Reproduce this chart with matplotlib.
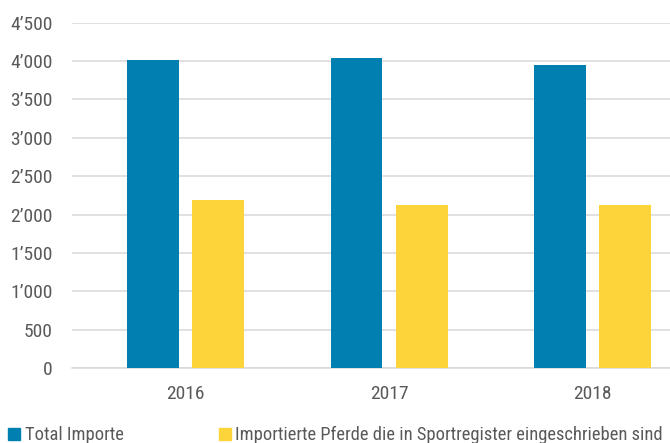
import matplotlib
matplotlib.use("Agg")
import matplotlib.pyplot as plt
from matplotlib.patches import Rectangle
from matplotlib import font_manager as fm
import numpy as np

years = ["2016", "2017", "2018"]
total_importe = [4013, 4040, 3948]
sport_register = [2187, 2121, 2121]
series_names = ["Total Importe", "Importierte Pferde die in Sportregister eingeschrieben sind"]
y_ticks = [0, 500, 1000, 1500, 2000, 2500, 3000, 3500, 4000, 4500]

available = {f.name for f in fm.fontManager.ttflist}
preferred = ["Roboto Condensed", "Open Sans Condensed", "Asap Condensed",
             "Barlow Condensed", "Archivo Narrow", "Liberation Sans Narrow"]
chosen = next((f for f in preferred if f in available), "DejaVu Sans")
plt.rcParams['font.family'] = [chosen, 'DejaVu Sans']

blue = "#0080B0"
yellow = "#FDD53A"
text_color = "#595959"

W, H = 670, 443
fig = plt.figure(figsize=(W / 100, H / 100), dpi=100)
ax = fig.add_axes([72 / W, (H - 368) / H, (W - 72) / W, (368 - 22.7) / H])

x = np.arange(len(years))
bw = 0.255
off = 0.16
ax.bar(x - off, total_importe, bw, color=blue, zorder=3)
ax.bar(x + off, sport_register, bw, color=yellow, zorder=3)

ax.set_xlim(-0.558, 2.381)
ax.set_ylim(0, 4500)
ax.set_yticks(y_ticks)
ax.set_yticklabels([f"{v:,}".replace(",", "\u2019") for v in y_ticks])
ax.set_xticks(x)
ax.set_xticklabels(years)
ax.yaxis.grid(True, color="#D9D9D9", linewidth=1.1, zorder=0)
for s in ["top", "right", "left"]:
    ax.spines[s].set_visible(False)
ax.spines["bottom"].set_color("#D9D9D9")
ax.spines["bottom"].set_linewidth(1.1)
fs = 14
ax.tick_params(axis="y", length=0, pad=14, labelsize=fs, labelcolor=text_color)
ax.tick_params(axis="x", length=0, pad=12, labelsize=fs, labelcolor=text_color)

# legend drawn manually
lfs = 13.3
leg_y = (H - 439.5) / H
sq = 12
fig.patches.append(Rectangle((8 / W, leg_y), sq / W, sq / H, transform=fig.transFigure,
                             color=blue, figure=fig))
fig.text(25 / W, leg_y, series_names[0], fontsize=lfs, color=text_color, va="baseline", ha="left")
fig.patches.append(Rectangle((219 / W, leg_y), sq / W, sq / H, transform=fig.transFigure,
                             color=yellow, figure=fig))
fig.text(235 / W, leg_y, series_names[1], fontsize=lfs, color=text_color, va="baseline", ha="left")

fig.savefig("out.png", dpi=100)
